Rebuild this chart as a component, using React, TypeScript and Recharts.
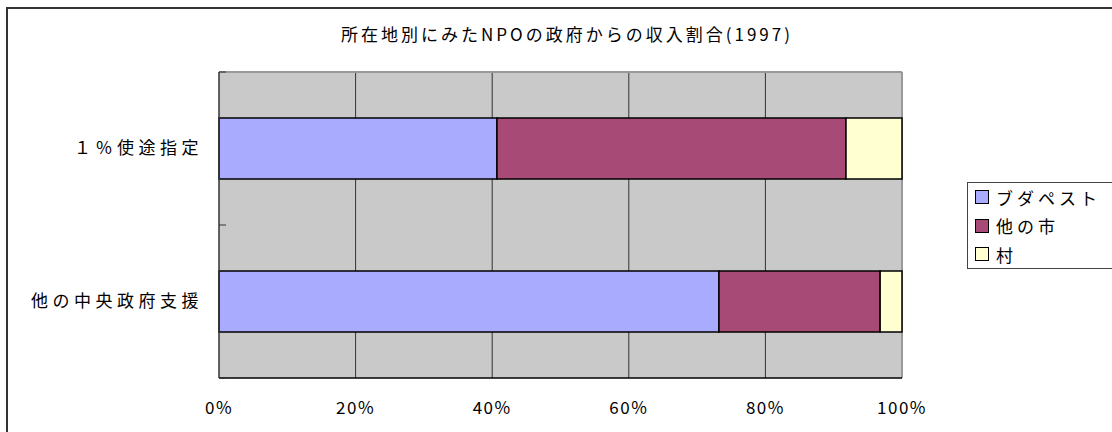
import React from "react";
import { BarChart, Bar, XAxis, YAxis, CartesianGrid } from "recharts";

const categories = ["１％使途指定", "他の中央政府支援"];
const budapest = [40.7, 73.2];
const otherCities = [51.1, 23.6];
const villages = [8.2, 3.2];
const xTicks = [0, 0.2, 0.4, 0.6, 0.8, 1];

const seriesNames = ["ブダペスト", "他の市", "村"];
const seriesColors = ["#A9ABFF", "#A84A76", "#FFFFD2"];

const data = categories.map((name, i) => ({
  name,
  budapest: budapest[i],
  otherCities: otherCities[i],
  villages: villages[i],
}));

const font = "'Noto Sans CJK JP', 'Noto Sans', sans-serif";

function CategoryTick(props: any) {
  const { x, y, payload, index, visibleTicksCount } = props;
  const off = payload && payload.offset ? payload.offset : 0;
  return (
    <g>
      <text
        x={x}
        y={y}
        dy="0.35em"
        textAnchor="end"
        fontFamily={font}
        fontSize={17}
        letterSpacing={4.5}
        fill="#000"
      >
        {payload.value}
      </text>
      {off > 0 && (
        <line x1={219} x2={226} y1={y - off} y2={y - off} stroke="#333" />
      )}
      {off > 0 && index === visibleTicksCount - 1 && (
        <line x1={219} x2={226} y1={y + off} y2={y + off} stroke="#333" />
      )}
    </g>
  );
}

// legend box sits over the chart, it does not take space from the plot
function LegendBox() {
  return (
    <div
      style={{
        position: "absolute",
        left: 967,
        top: 182,
        width: 150,
        height: 87,
        border: "1px solid #444",
        background: "#fff",
        boxSizing: "border-box",
        padding: "0 0 0 7px",
        fontFamily: font,
        fontSize: 17,
        letterSpacing: 4,
        color: "#000",
      }}
    >
      {seriesNames.map((n, i) => (
        <div
          key={n}
          style={{ display: "flex", alignItems: "center", height: 28.5 }}
        >
          <span
            style={{
              display: "inline-block",
              width: 12,
              height: 12,
              background: seriesColors[i],
              border: "1.5px solid #000",
              marginRight: 7,
            }}
          />
          <span>{n}</span>
        </div>
      ))}
    </div>
  );
}

export default function App() {
  return (
    <div
      style={{
        position: "absolute",
        left: 0,
        top: 0,
        width: 1112,
        height: 432,
        overflow: "hidden",
        background: "#fff",
      }}
    >
      <div
        style={{
          position: "absolute",
          left: 6,
          top: 7,
          width: 1130,
          height: 450,
          border: "2px solid #333",
        }}
      />
      <div
        style={{
          position: "absolute",
          left: 0,
          top: 21,
          width: 1134,
          textAlign: "center",
          fontFamily: font,
          fontSize: 17,
          letterSpacing: 3,
          color: "#000",
        }}
      >
        所在地別にみたNPOの政府からの収入割合(1997)
      </div>
      <div style={{ position: "absolute", left: 0, top: 0 }}>
        <BarChart
          width={1112}
          height={432}
          data={data}
          layout="vertical"
          stackOffset="expand"
          barCategoryGap="30%"
          margin={{ top: 72, right: 210, bottom: 24, left: 0 }}
        >
          <CartesianGrid
            fill="#C9C9C9"
            fillOpacity={1}
            horizontal={false}
            stroke="#333"
            verticalCoordinatesGenerator={({ offset }: any) =>
              xTicks
                .slice(1, -1)
                .map((t) => offset.left + t * offset.width)
            }
          />
          <CartesianGrid
            fill="none"
            stroke="#999"
            strokeWidth={2}
            horizontalCoordinatesGenerator={({ offset }: any) => [offset.top]}
            verticalCoordinatesGenerator={({ offset }: any) => [
              offset.left + offset.width,
            ]}
          />
          <XAxis
            type="number"
            domain={[0, 1]}
            ticks={xTicks}
            tickFormatter={(v: number) => `${Math.round(v * 100)}%`}
            axisLine={{ stroke: "#000", strokeWidth: 1.5 }}
            tickLine={false}
            tickMargin={18}
            tick={{
              fontFamily: font,
              fontSize: 17,
              letterSpacing: 1.5,
              fill: "#000",
            }}
          />
          <YAxis
            type="category"
            dataKey="name"
            width={219}
            axisLine={{ stroke: "#333", strokeWidth: 1.5 }}
            tickLine={false}
            tickMargin={10}
            tick={<CategoryTick />}
          />
          <Bar
            dataKey="budapest"
            name={seriesNames[0]}
            stackId="a"
            fill={seriesColors[0]}
            stroke="#000"
            strokeWidth={1.5}
            isAnimationActive={false}
          />
          <Bar
            dataKey="otherCities"
            name={seriesNames[1]}
            stackId="a"
            fill={seriesColors[1]}
            stroke="#000"
            strokeWidth={1.5}
            isAnimationActive={false}
          />
          <Bar
            dataKey="villages"
            name={seriesNames[2]}
            stackId="a"
            fill={seriesColors[2]}
            stroke="#000"
            strokeWidth={1.5}
            isAnimationActive={false}
          />
        </BarChart>
      </div>
      <LegendBox />
    </div>
  );
}
